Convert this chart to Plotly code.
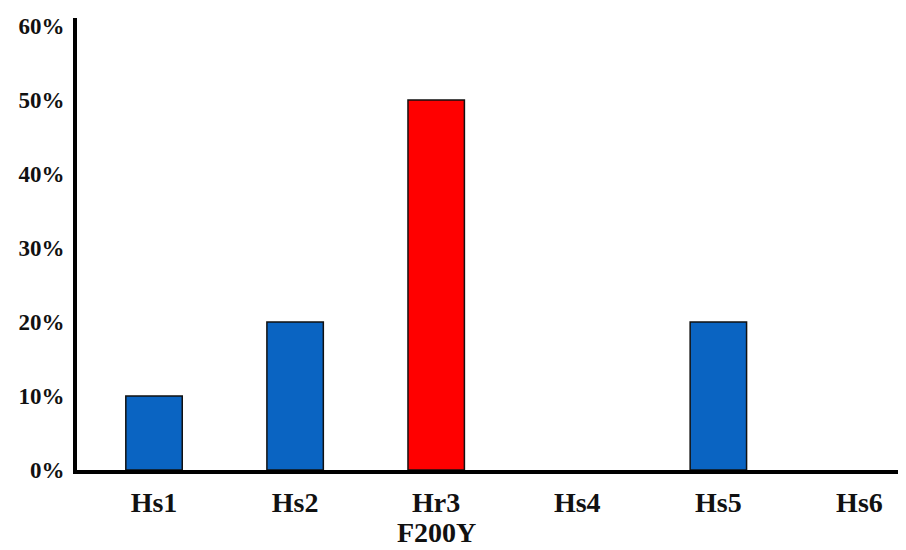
import plotly.graph_objects as go

categories = ["Hs1", "Hs2", "Hr3", "Hs4", "Hs5", "Hs6"]
values = [0.10, 0.20, 0.50, 0.0, 0.20, 0.0]
colors = ["#0A64C2", "#0A64C2", "#FF0000", "#0A64C2", "#0A64C2", "#0A64C2"]
sub_label = "F200Y"
sub_label_category = "Hr3"
y_ticks = [0, 0.1, 0.2, 0.3, 0.4, 0.5, 0.6]
y_tick_text = ["0%", "10%", "20%", "30%", "40%", "50%", "60%"]

fig = go.Figure(go.Bar(
    x=categories, y=values,
    marker=dict(color=colors,
                line=dict(color="#111111", width=[1.5 if v > 0 else 0 for v in values])),
    width=0.4,
))

font_family = "Times New Roman, Liberation Serif, serif"
fig.add_annotation(
    x=sub_label_category, y=0, xref="x", yref="y",
    text=sub_label, showarrow=False,
    yanchor="top", yshift=-45,
    font=dict(family=font_family, size=28, color="#111111", weight="bold"),
)
fig.update_layout(
    width=898, height=542,
    margin=dict(l=69, r=0, t=10, b=80),
    plot_bgcolor="white", paper_bgcolor="white",
    showlegend=False,
    xaxis=dict(
        type="category", automargin=False,
        range=[-0.546, 5.33],
        showline=True, linecolor="black", linewidth=4,
        showgrid=False, ticks="",
        ticklabelstandoff=4,
        tickfont=dict(family=font_family, size=28, color="#111111", weight="bold"),
    ),
    yaxis=dict(
        range=[0, 0.611], automargin=False,
        tickvals=y_ticks, ticktext=y_tick_text,
        showline=True, linecolor="black", linewidth=4,
        showgrid=False, zeroline=False, ticks="",
        ticklabelstandoff=4,
        tickfont=dict(family=font_family, size=23, color="#111111", weight="bold"),
    ),
)

fig.write_html("out.html")
